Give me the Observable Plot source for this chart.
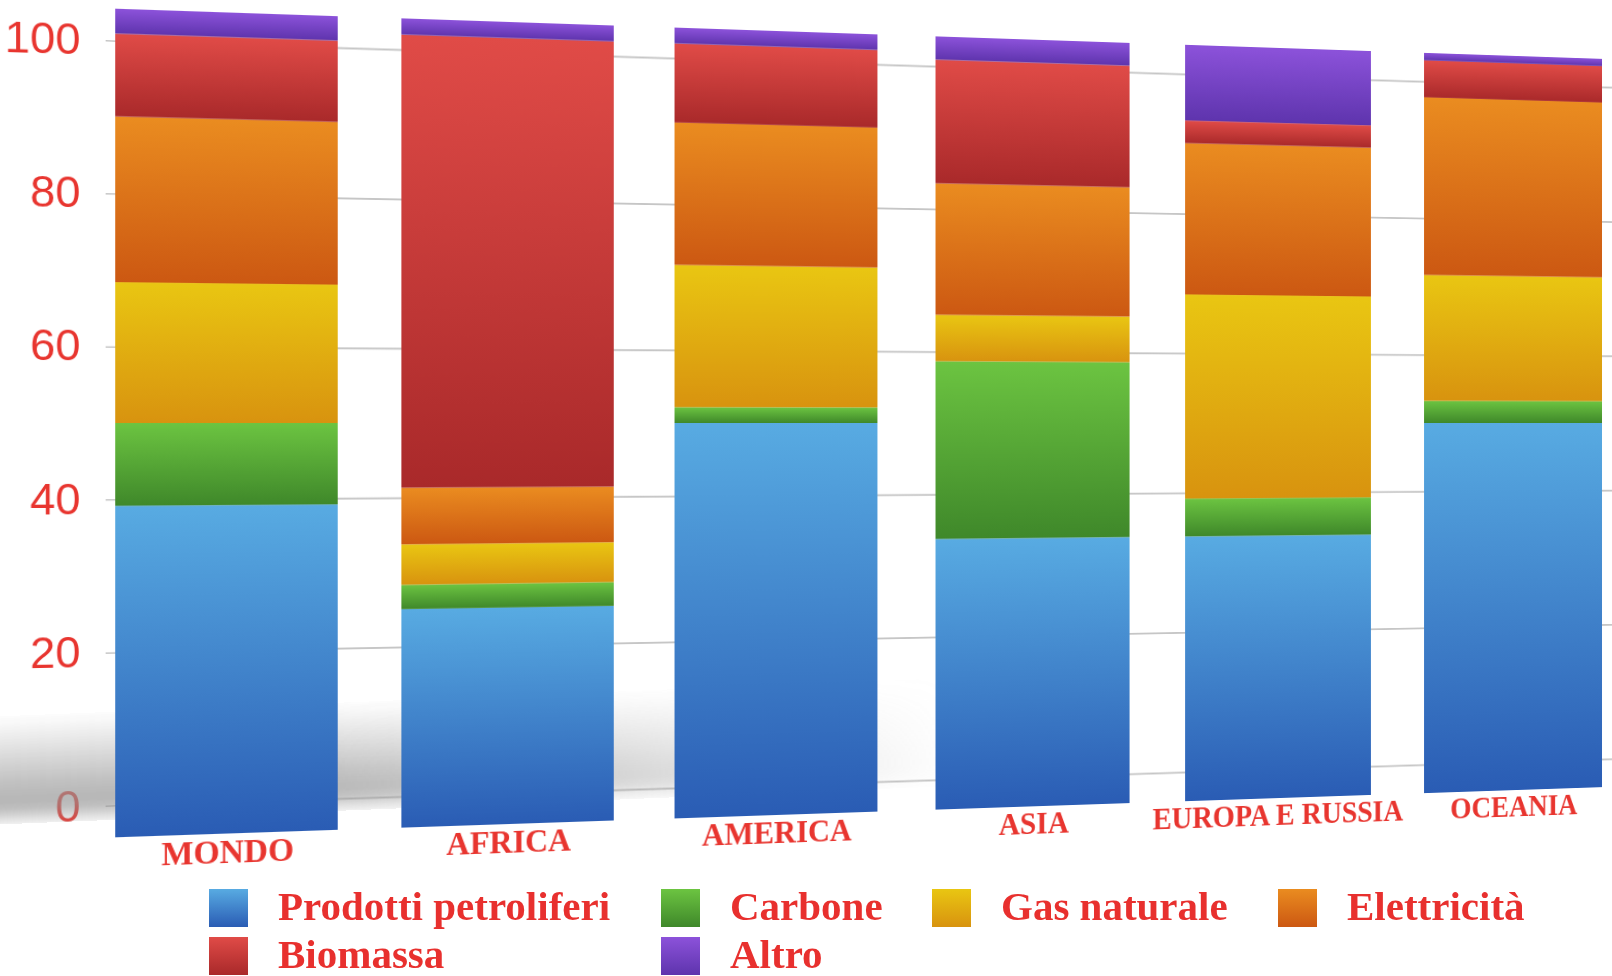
<!DOCTYPE html>
<html lang="it">
<head>
<meta charset="utf-8">
<title>Consumi finali di energia per fonte</title>
<script src="https://cdn.jsdelivr.net/npm/d3@7"></script>
<script src="https://cdn.jsdelivr.net/npm/@observablehq/plot@0.6"></script>
<style>
  html, body { margin: 0; padding: 0; background: #ffffff; overflow: hidden; }
  #page { position: relative; width: 1612px; height: 976px; overflow: hidden; background: #ffffff; }
  #stage { position: absolute; left: 0; top: 0; width: 1612px; height: 976px; overflow: hidden; }
  #stage svg { position: absolute; left: 0; top: 0; }
  #floor-shadow {
    position: absolute; left: -40px; top: 718px; width: 1000px; height: 108px;
    background: linear-gradient(to bottom,
      rgba(150,150,150,0) 0%, rgba(155,155,155,0.3) 30%, rgba(150,150,150,0.62) 65%,
      rgba(145,145,145,0.72) 86%, rgba(150,150,150,0) 100%);
    -webkit-mask-image: linear-gradient(to right, #000 0%, #000 35%, rgba(0,0,0,0.6) 65%, rgba(0,0,0,0.25) 85%, rgba(0,0,0,0) 100%);
    mask-image: linear-gradient(to right, #000 0%, #000 35%, rgba(0,0,0,0.6) 65%, rgba(0,0,0,0.25) 85%, rgba(0,0,0,0) 100%);
    transform-origin: 0 100%;
    transform: rotate(-2.3deg);
    filter: blur(8px);
  }
  #legend {
    position: absolute; left: 209px; top: 884px;
    display: grid; grid-template-columns: 452px 271px 346px auto; grid-auto-rows: 48px;
    font-family: "Liberation Serif", "Times New Roman", serif; font-weight: bold;
    font-size: 41px; color: #e8302e;
  }
  #legend .item { display: flex; align-items: center; white-space: nowrap; }
  #legend .swatch { width: 39px; height: 38px; margin-right: 30px; flex: none; }
  #legend .label { line-height: 1; position: relative; top: -2px; }
</style>
</head>
<body>
<div id="page">
  <div id="stage"></div>
  <div id="legend"></div>
</div>
<script>
// Regions (bars) and energy sources (stack segments), shares in %
const regions = ["MONDO", "AFRICA", "AMERICA", "ASIA", "EUROPA E RUSSIA", "OCEANIA"];
const sources = ["Prodotti petroliferi", "Carbone", "Gas naturale", "Elettricità", "Biomassa", "Altro"];

const petroliferi = [40, 27, 50, 35, 35, 50];
const carbone     = [10, 3, 2, 23, 5, 3];
const gasNaturale = [17, 5, 18, 6, 27, 17];
const elettricita = [20, 7, 18, 17, 20, 24];
const biomassa    = [10, 56, 10, 16, 3, 5];
const altro       = [3, 2, 2, 3, 10, 1];

const yTicks = [0, 20, 40, 60, 80, 100];

// Gradient stops per source: lighter at the top, darker at the bottom
const colorTop    = ["#58abe2", "#6cc441", "#e9c612", "#ea8c20", "#e04b47", "#8c52da"];
const colorBottom = ["#2a5cb4", "#3f882a", "#d8930f", "#cc5812", "#a9292a", "#5e34ad"];

const seriesValues = [petroliferi, carbone, gasNaturale, elettricita, biomassa, altro];
const rows = regions.flatMap((region, i) =>
  sources.map((source, j) => ({region, source, value: seriesValues[j][i]}))
);

const red = "#e8352f";
const stage = document.getElementById("stage");

// Shared 3D view: both layers turn around the same origin; the wall sits behind the bars.
const origin = "806px 423px";
const view = "perspective(2043px) rotateY(10deg)";

function layerStyle(extra) {
  return `background: transparent; max-width: none; overflow: visible; transform-origin: ${origin}; transform: ${view}${extra};`;
}

// Back wall: grid lines and value axis
const wall = Plot.plot({
  width: 1800,
  height: 870,
  marginLeft: 119,
  marginRight: 0,
  marginTop: 32,
  marginBottom: 56,
  style: layerStyle(" translateZ(-168px)"),
  x: {axis: null},
  y: {domain: [0, 100], axis: null},
  marks: [
    Plot.gridY(yTicks, {stroke: "#c6c6c6", strokeOpacity: 1, strokeWidth: 2}),
    Plot.axisY(yTicks, {
      anchor: "left",
      tickSize: 10,
      tickPadding: 25,
      stroke: "#a8a8a8",
      fill: red,
      fontSize: 44,
      fontFamily: "Liberation Sans, Arial, sans-serif",
      label: null
    })
  ]
});

// Front: stacked bars with region labels
const bars = Plot.plot({
  width: 1700,
  height: 870,
  marginLeft: 143,
  marginRight: 25,
  marginTop: 32,
  marginBottom: 56,
  style: layerStyle(""),
  x: {domain: regions, paddingInner: 0.2273, paddingOuter: 0, label: null},
  y: {domain: [0, 100], axis: null},
  color: {domain: sources, range: sources.map((_, j) => `url(#fonte-${j})`)},
  marks: [
    Plot.barY(rows, {x: "region", y: "value", fill: "source"}),
    Plot.axisX({
      anchor: "bottom",
      tickSize: 0,
      tickPadding: 5,
      fill: red,
      fontSize: 31,
      fontWeight: "bold",
      fontFamily: "Liberation Serif, Times New Roman, serif",
      label: null
    })
  ]
});

// Vertical gradients used by the bar segments
const ns = "http://www.w3.org/2000/svg";
const defs = document.createElementNS(ns, "defs");
sources.forEach((_, j) => {
  const g = document.createElementNS(ns, "linearGradient");
  g.setAttribute("id", `fonte-${j}`);
  g.setAttribute("x1", "0"); g.setAttribute("y1", "0");
  g.setAttribute("x2", "0"); g.setAttribute("y2", "1");
  [[0, colorTop[j]], [1, colorBottom[j]]].forEach(([o, c]) => {
    const s = document.createElementNS(ns, "stop");
    s.setAttribute("offset", o);
    s.setAttribute("stop-color", c);
    g.appendChild(s);
  });
  defs.appendChild(g);
});
bars.insertBefore(defs, bars.firstChild);

// Soft floor shadow behind the bars
const shadow = document.createElement("div");
shadow.id = "floor-shadow";

stage.appendChild(wall);
stage.appendChild(shadow);
stage.appendChild(bars);

// Legend
const legend = document.getElementById("legend");
sources.forEach((source, j) => {
  const item = document.createElement("div");
  item.className = "item";
  const sw = document.createElement("span");
  sw.className = "swatch";
  sw.style.background = `linear-gradient(${colorTop[j]}, ${colorBottom[j]})`;
  const lab = document.createElement("span");
  lab.className = "label";
  lab.textContent = source;
  item.appendChild(sw);
  item.appendChild(lab);
  legend.appendChild(item);
});
</script>
</body>
</html>
